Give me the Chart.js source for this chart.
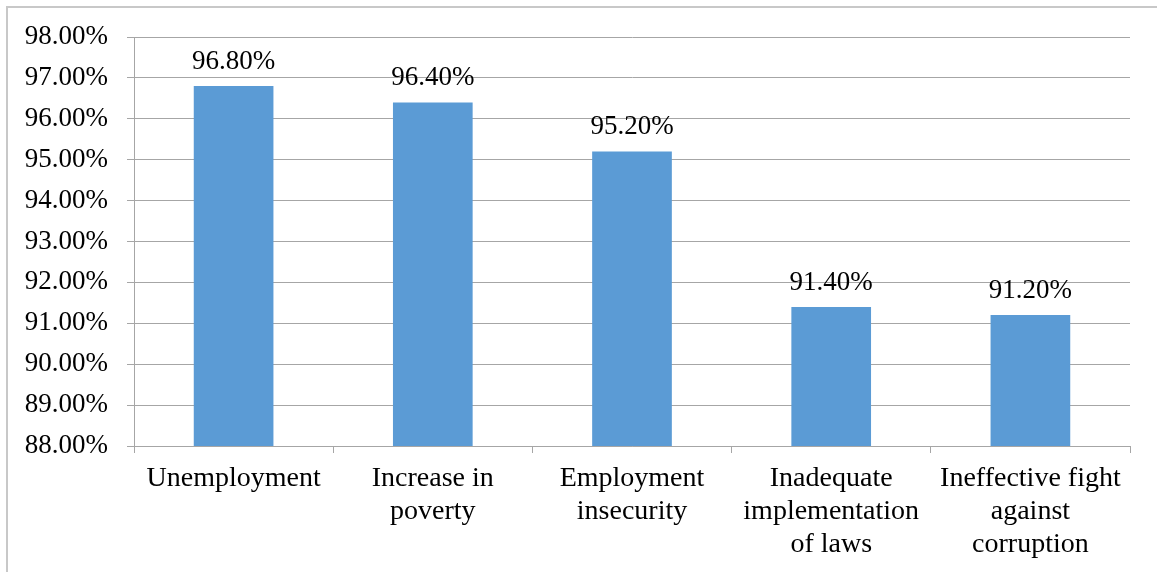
<!DOCTYPE html>
<html>
<head>
<meta charset="utf-8">
<script src="https://cdn.jsdelivr.net/npm/chart.js@4/dist/chart.umd.min.js"></script>
<style>
  html, body { margin: 0; padding: 0; background: #fff; overflow: hidden; }
  #frame { position: absolute; left: 6px; top: 6px; width: 1200px; height: 600px;
           border-left: 2px solid #c8c8c8; border-top: 2px solid #c8c8c8; }
  #wrap { position: absolute; left: 0; top: 0; width: 1157px; height: 572px; }
</style>
</head>
<body>
<div id="frame"></div>
<div id="wrap"><canvas id="chart"></canvas></div>
<script>
const categories = [
    ['Unemployment'],
    ['Increase in', 'poverty'],
    ['Employment', 'insecurity'],
    ['Inadequate', 'implementation', 'of laws'],
    ['Ineffective fight', 'against', 'corruption']
];
const values = [96.8, 96.4, 95.2, 91.4, 91.2];
const yMin = 88;
const yMax = 98;

const fontFamily = '"Liberation Serif", "Times New Roman", serif';
const gridColor = '#a6a6a6';

// draws the percentage above each bar
const barLabels = {
    id: 'barLabels',
    afterDatasetsDraw(chart) {
        const ctx = chart.ctx;
        const meta = chart.getDatasetMeta(0);
        ctx.save();
        ctx.font = '27px ' + fontFamily;
        ctx.fillStyle = '#000';
        ctx.textAlign = 'center';
        ctx.textBaseline = 'bottom';
        meta.data.forEach((bar, i) => {
            ctx.fillText(values[i].toFixed(2) + '%', bar.x, bar.y - 11);
        });
        ctx.restore();
    }
};

new Chart(document.getElementById('chart'), {
    type: 'bar',
    data: {
        labels: categories,
        datasets: [{
            data: values,
            backgroundColor: '#5b9bd5',
            borderWidth: 0,
            barPercentage: 0.4,
            categoryPercentage: 1.0
        }]
    },
    options: {
        responsive: true,
        maintainAspectRatio: false,
        animation: false,
        events: [],
        layout: { padding: { top: 37, right: 27, left: 0, bottom: 0 } },
        plugins: {
            legend: { display: false },
            tooltip: { enabled: false }
        },
        scales: {
            x: {
                afterFit(scale) { scale.height = 126; },
                grid: {
                    display: true,
                    offset: true,
                    drawOnChartArea: false,
                    drawTicks: true,
                    tickLength: 7,
                    color: gridColor
                },
                border: { display: true, color: gridColor, width: 1 },
                ticks: {
                    color: '#000',
                    font: { family: fontFamily, size: 28, lineHeight: 1.18 },
                    padding: 9,
                    maxRotation: 0,
                    autoSkip: false
                }
            },
            y: {
                min: yMin,
                max: yMax,
                afterFit(scale) { scale.width = 134; },
                grid: {
                    color: gridColor,
                    tickLength: 7,
                    drawTicks: true
                },
                border: { display: true, color: gridColor, width: 1 },
                ticks: {
                    stepSize: 1,
                    color: '#000',
                    font: { family: fontFamily, size: 27 },
                    padding: 19,
                    callback: v => v.toFixed(2) + '%'
                }
            }
        }
    },
    plugins: [barLabels]
});
</script>
</body>
</html>
